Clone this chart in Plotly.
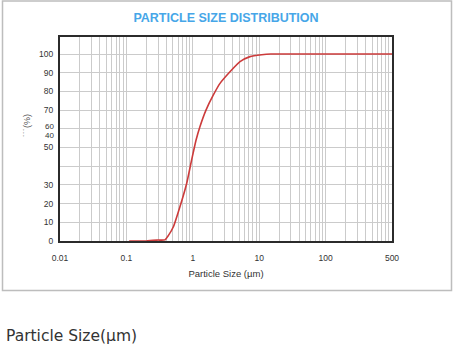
import plotly.graph_objects as go

# Cumulative particle size distribution (size in µm, cumulative passing in %)
size_um = [0.11, 0.15, 0.2, 0.25, 0.3, 0.38, 0.43, 0.51, 0.64, 0.81, 0.96,
           1.12, 1.28, 1.58, 2.04, 2.57, 3.63, 5.14, 7.26, 10.9, 15, 30, 100, 1000]
cumulative_pct = [0, 0, 0, 0.4, 0.5, 0.6, 3, 7.6, 18.3, 30.9, 43.3,
                  54, 61.1, 70, 78.1, 84.3, 90.5, 95.9, 98.6, 99.6, 100, 100, 100, 100]

# Axis ticks
x_decades = [0.01, 0.1, 1, 10, 100, 1000]
x_decade_labels = ["0.01", "0.1", "1", "10", "100", "500"]
y_values = [0, 10, 20, 30, 40, 50, 60, 70, 80, 90, 100]
y_labels = ["0", "10", "20", "30", "", "50", "", "70", "80", "90", "100"]
y_extra_labels = ["60", "40"]

title_text = "PARTICLE SIZE DISTRIBUTION"
x_title = "Particle Size (µm)"
y_title = "˙˙˙(%)"
caption = "Particle Size(µm)"

W, H = 455, 348
L, R, T, B = 60, 63, 37, 107
pw, ph = W - L - R, H - T - B

def px_x(px):
    return (px - L) / pw

def px_y(py):
    return (H - B - py) / ph

# log gridlines: every 1..9 multiple per decade
x_tickvals, x_ticktext = [], []
for d, lab in zip(x_decades, x_decade_labels):
    x_tickvals.append(d)
    x_ticktext.append(lab)
    if d < 1000:
        for m in range(2, 10):
            x_tickvals.append(round(d * m, 6))
            x_ticktext.append("")

grid_col = "#cbcbcb"
axis_col = "#2b2b2b"
tick_font = dict(family="Liberation Sans, Arial, sans-serif", size=8.5, color="#333333")

fig = go.Figure()
fig.add_trace(go.Scatter(
    x=size_um, y=cumulative_pct, mode="lines",
    line=dict(color="#cc3b3b", width=1.6, shape="spline", smoothing=0.5),
    showlegend=False, hoverinfo="x+y",
))

fig.update_layout(
    width=W, height=H, autosize=False,
    margin=dict(l=L, r=R, t=T, b=B),
    paper_bgcolor="white", plot_bgcolor="white",
    title=dict(text="<b>" + title_text + "</b>", x=0.5, xref="paper", xanchor="center",
               y=1 - 18 / H, yref="container", yanchor="middle",
               font=dict(family="Liberation Sans, Arial, sans-serif", size=12.5, color="#46a6e8")),
    xaxis=dict(
        type="log", range=[-2, 3],
        tickmode="array", tickvals=x_tickvals, ticktext=x_ticktext,
        showgrid=True, gridcolor=grid_col, gridwidth=1.3,
        showline=True, linecolor=axis_col, linewidth=2, mirror=True,
        ticks="", ticklabelstandoff=8, tickfont=tick_font, zeroline=False,
        title=dict(text=x_title, standoff=8,
                   font=dict(family="Liberation Sans, Arial, sans-serif", size=9.5, color="#333333")),
    ),
    yaxis=dict(
        range=[0, (H - B - T) / 1.87], tickmode="array", tickvals=y_values, ticktext=y_labels,
        showgrid=True, gridcolor=grid_col, gridwidth=1.3,
        showline=True, linecolor=axis_col, linewidth=2, mirror=True,
        ticks="", ticklabelstandoff=3, tickfont=tick_font, zeroline=False,
    ),
)

# stacked labels beside the 60 gridline
for lab, py in zip(y_extra_labels, [126.2, 135.8]):
    fig.add_annotation(text=lab, xref="paper", yref="paper", x=px_x(56), y=px_y(py),
                       xanchor="right", yanchor="middle", showarrow=False,
                       font=dict(family="Liberation Sans, Arial, sans-serif", size=8, color="#333333"))

# rotated y-axis title
fig.add_annotation(text=y_title, xref="paper", yref="paper", x=px_x(27), y=px_y(126),
                   xanchor="center", yanchor="middle", textangle=-90, showarrow=False,
                   font=dict(family="Liberation Sans, Arial, sans-serif", size=9, color="#555555"))

# caption below the chart frame
fig.add_annotation(text=caption, xref="paper", yref="paper", x=px_x(4), y=px_y(336),
                   xanchor="left", yanchor="middle", showarrow=False,
                   font=dict(family="DejaVu Sans, sans-serif", size=15.5, color="#333333"))

# outer light frame
fig.add_shape(type="rect", xref="paper", yref="paper",
              x0=px_x(2.5), x1=px_x(451.5), y0=px_y(290.5), y1=px_y(1),
              line=dict(color="#bdbdbd", width=1.5), fillcolor="rgba(0,0,0,0)", layer="below")

fig.write_html("out.html")
